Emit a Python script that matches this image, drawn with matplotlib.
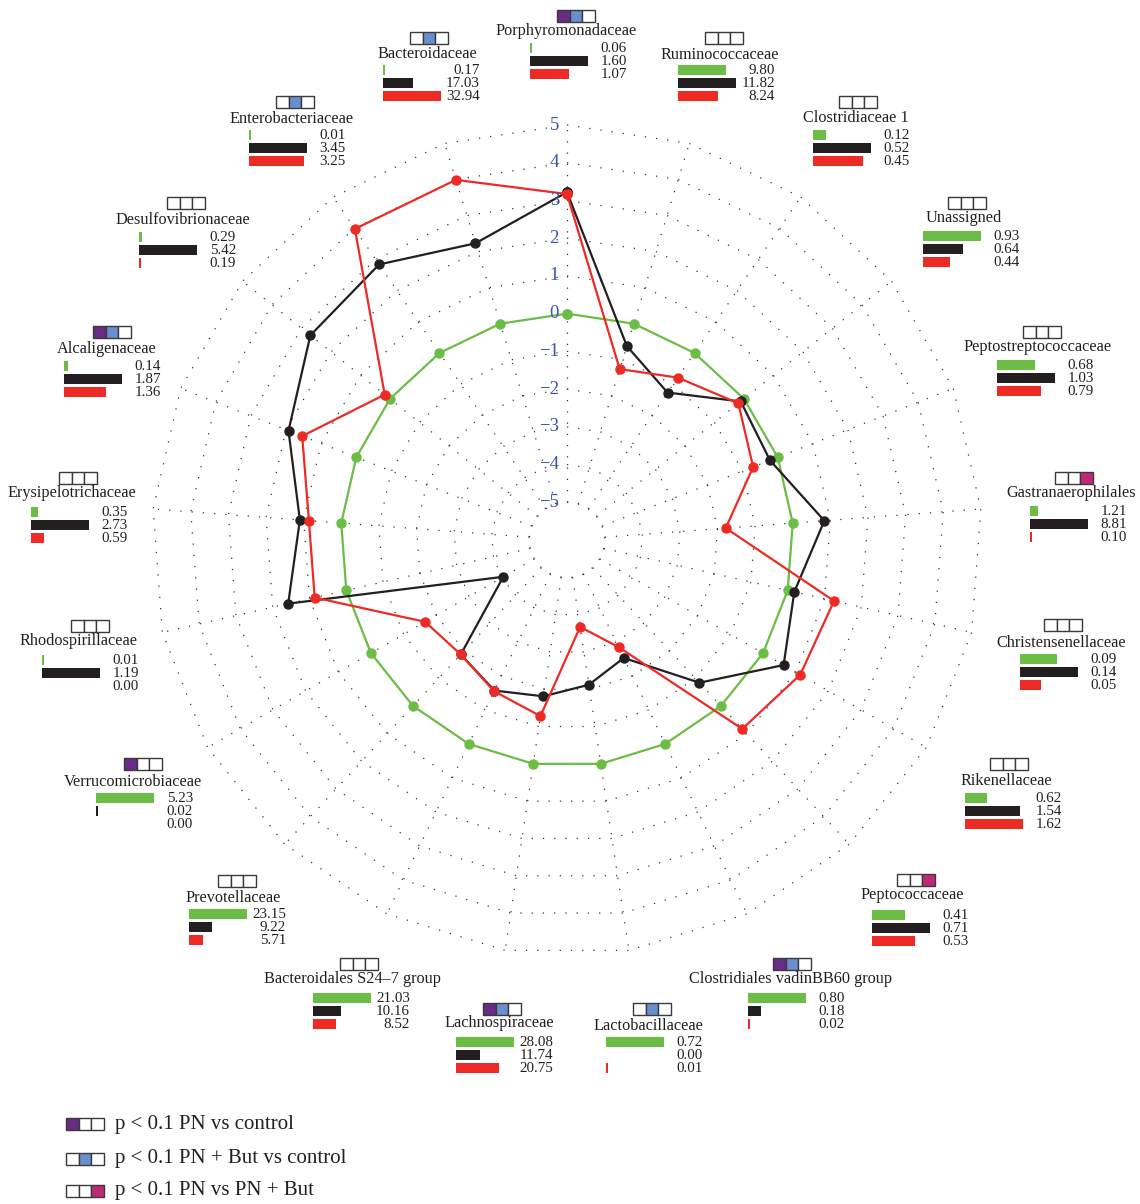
import numpy as np
import matplotlib
matplotlib.use("Agg")
import matplotlib.pyplot as plt
from matplotlib.patches import Rectangle
from matplotlib.transforms import offset_copy

plt.rcParams['font.family'] = ['Liberation Serif', 'DejaVu Serif']

# categories, clockwise from the top
families = ["Porphyromonadaceae", "Ruminococcaceae", "Clostridiaceae 1", "Unassigned",
            "Peptostreptococcaceae", "Gastranaerophilales", "Christensenellaceae", "Rikenellaceae",
            "Peptococcaceae", "Clostridiales vadinBB60 group", "Lactobacillaceae", "Lachnospiraceae",
            "Bacteroidales S24\u20137 group", "Prevotellaceae", "Verrucomicrobiaceae", "Rhodospirillaceae",
            "Erysipelotrichaceae", "Alcaligenaceae", "Desulfovibrionaceae", "Enterobacteriaceae",
            "Bacteroidaceae"]

# radar values (relative to control)
radar_control = [0.0] * 21
radar_pn = [3.22, -0.62, -1.27, -0.11, -0.22, 0.84, 0.18, 0.63, -0.84, -2.53, -2.12,
            -1.81, -1.57, -1.86, -4.05, 1.58, 1.10, 1.93, 2.70, 2.84, 2.23]
radar_pnbut = [3.17, -1.26, -0.79, -0.19, -0.70, -1.78, 1.26, 1.14, 0.83, -2.85, -3.67,
               -1.28, -1.55, -1.86, -1.66, 0.86, 0.86, 1.54, 0.18, 3.98, 3.99]

# relative abundances shown as small bars
ab_control = [0.06, 9.80, 0.12, 0.93, 0.68, 1.21, 0.09, 0.62, 0.41, 0.80, 0.72,
              28.08, 21.03, 23.15, 5.23, 0.01, 0.35, 0.14, 0.29, 0.01, 0.17]
ab_pn = [1.60, 11.82, 0.52, 0.64, 1.03, 8.81, 0.14, 1.54, 0.71, 0.18, 0.00,
         11.74, 10.16, 9.22, 0.02, 1.19, 2.73, 1.87, 5.42, 3.45, 17.03]
ab_pnbut = [1.07, 8.24, 0.45, 0.44, 0.79, 0.10, 0.05, 1.62, 0.53, 0.02, 0.01,
            20.75, 8.52, 5.71, 0.00, 0.00, 0.59, 1.36, 0.19, 3.25, 32.94]

# significance flags: PN vs control, PN+But vs control, PN vs PN+But
sig = [[1, 1, 0], [0, 0, 0], [0, 0, 0], [0, 0, 0], [0, 0, 0], [0, 0, 1], [0, 0, 0],
       [0, 0, 0], [0, 0, 1], [1, 1, 0], [0, 1, 0], [1, 1, 0], [0, 0, 0], [0, 0, 0],
       [1, 0, 0], [0, 0, 0], [0, 0, 0], [1, 1, 0], [0, 0, 0], [0, 1, 0], [0, 1, 0]]

rticks = list(range(-5, 6))
legend_labels = ["p < 0.1 PN vs control", "p < 0.1 PN + But vs control", "p < 0.1 PN vs PN + But"]

# label block layout in pixels: name x, name y, squares x, squares y, bar left, first bar y
layout = [(566, 31, 576, 16, 530, 48), (720, 55, 724, 38, 678, 70), (856, 118, 858, 102, 813, 135),
          (964, 218, 967, 203, 923, 236), (1038, 347, 1042, 332, 997, 365), (1071, 493, 1074, 478, 1030, 511),
          (1061, 643, 1063, 625, 1020, 659), (1006, 781, 1009, 764, 965, 798), (912, 895, 916, 880, 872, 915),
          (791, 979, 792, 964, 748, 998), (648, 1026, 652, 1009, 606, 1042), (499, 1023, 502, 1009, 456, 1042),
          (353, 979, 359, 964, 313, 998), (233, 898, 237, 881, 189, 914), (133, 782, 143, 764, 96, 798),
          (78, 641, 90, 626, 42, 660), (72, 493, 78, 478, 31, 512), (107, 349, 112, 332, 64, 366),
          (183, 220, 186, 203, 139, 237), (292, 119, 295, 102, 249, 135), (427, 54, 429, 38, 383, 70)]

green, black, red = '#6cbd45', '#231f20', '#ee2a24'
sig_cols = ['#6a2b87', '#6a8fcf', '#c1287a']
blue = '#3b57a6'
txt = '#231f20'

W, H = 1140, 1204
cx, cy, R = 567, 540, 415
fig = plt.figure(figsize=(W / 100, H / 100), dpi=100)

ax = fig.add_axes([(cx - R) / W, (H - cy - R) / H, 2 * R / W, 2 * R / H], projection='polar')
ax.set_theta_zero_location('N')
ax.set_theta_direction(-1)
ax.set_ylim(-6, 5)
ax.set_axis_off()

n = len(families)
theta = np.arange(n) * 2 * np.pi / n
tc = np.append(theta, theta[0])

# dotted polygon grid and spokes
for lv in rticks:
    ax.plot(tc, [lv] * (n + 1), color='#333333', lw=0.9, ls=(0, (1, 8)), clip_on=False, zorder=1)
for t in theta:
    ax.plot([t, t], [-5, 5], color='#333333', lw=0.9, ls=(0, (1, 8)), clip_on=False, zorder=1)

for vals, col, z in [(radar_control, green, 3), (radar_pn, black, 4), (radar_pnbut, red, 5)]:
    v = np.append(vals, vals[0])
    ax.plot(tc, v, color=col, lw=1.6, marker='o', ms=6.5, clip_on=False, zorder=z)

lab_tr = offset_copy(ax.transData, fig=fig, x=-8, y=0, units='dots')
for lv in rticks:
    s = str(lv).replace('-', '\u2212')
    ax.text(0, lv, s, transform=lab_tr, ha='right', va='center', color=blue, fontsize=13.5, zorder=6)

# overlay in pixel coordinates for the label blocks
ax2 = fig.add_axes([0, 0, 1, 1])
ax2.set_xlim(0, W)
ax2.set_ylim(H, 0)
ax2.axis('off')


def squares(x0, y0, flags):
    w = 12.7
    for k in range(3):
        fc = sig_cols[k] if flags[k] else 'white'
        ax2.add_patch(Rectangle((x0 - 1.5 * w + k * w, y0 - 6), w, 12, facecolor=fc,
                                edgecolor='#3a3a3a', lw=1.0))


for i, name in enumerate(families):
    nx, ny, sx, sy, bx, by = layout[i]
    squares(sx, sy, sig[i])
    ax2.text(nx, ny, name, ha='center', va='center', fontsize=11.7, color=txt)
    vals = [ab_control[i], ab_pn[i], ab_pnbut[i]]
    m = max(vals)
    for j, (v, col) in enumerate(zip(vals, [green, black, red])):
        y = by + 12.9 * j
        w = v / m * 58
        if v > 0:
            ax2.barh(y, max(w, 1.5), left=bx, height=10, color=col)
        ax2.text(bx + 97, y + 0.5, f"{v:.2f}", ha='right', va='center', fontsize=10.8, color=txt)

for k, lab in enumerate(legend_labels):
    y = [1124, 1159, 1191][k]
    flags = [0, 0, 0]
    flags[k] = 1
    squares(85, y, flags)
    ax2.text(115, y, lab, ha='left', va='center', fontsize=15, color=txt)

fig.savefig('out.png', dpi=100)
